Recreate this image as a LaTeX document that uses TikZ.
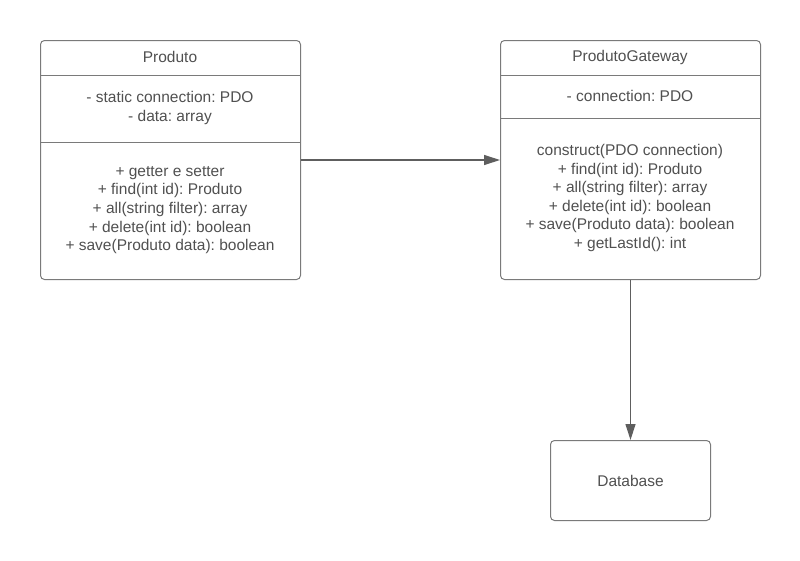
\documentclass[tikz,border=0pt]{standalone}
\usepackage{fontspec}
\setmainfont{Liberation Sans}
\usetikzlibrary{arrows.meta}
\frenchspacing
\definecolor{txt}{HTML}{505050}
\definecolor{ln}{HTML}{7A7A7A}
\definecolor{arr}{HTML}{5E5E5E}
\begin{document}
\begin{tikzpicture}[x=1pt,y=-1pt,
  umlbox/.style={draw=ln, line width=1pt, rounded corners=4pt, inner sep=0pt, anchor=north west},
  lbl/.style={text=txt, font=\fontsize{15.5}{18.6}\selectfont\frenchspacing, align=center, inner sep=0pt},
  divider/.style={draw=ln, line width=1pt},
  conn/.style={draw=arr, line width=1.2pt, -{Triangle[length=16pt,width=10pt]}}]
\useasboundingbox (0,0) rectangle (800,560);
% boxes
\node[umlbox, minimum width=260pt, minimum height=239pt] (prod) at (40,40) {};
\node[umlbox, minimum width=260pt, minimum height=239pt] (gw) at (500,40) {};
\node[umlbox, minimum width=160pt, minimum height=80pt] (db) at (550,440) {};
% dividers
\coordinate (pd1) at (0,75);
\coordinate (pd2) at (0,142);
\coordinate (gd1) at (0,75);
\coordinate (gd2) at (0,118);
\draw[divider] (prod.west |- pd1) -- (prod.east |- pd1);
\draw[divider] (prod.west |- pd2) -- (prod.east |- pd2);
\draw[divider] (gw.west |- gd1) -- (gw.east |- gd1);
\draw[divider] (gw.west |- gd2) -- (gw.east |- gd2);
% texts
\node[lbl] (prodname) at (170,57) {Produto};
\node[lbl] (prodattr) at (170,108) {- static connection: PDO\\- data: array};
\node[lbl] (prodops) at (170,210) {+ getter e setter\\+ find(int id): Produto\\+ all(string filter): array\\+ delete(int id): boolean\\+ save(Produto data): boolean};
\node[lbl] (gwname) at (630,57) {ProdutoGateway};
\node[lbl] (gwattr) at (630,96) {- connection: PDO};
\node[lbl] (gwops) at (630,198) {construct(PDO connection)\\+ find(int id): Produto\\+ all(string filter): array\\+ delete(int id): boolean\\+ save(Produto data): boolean\\+ getLastId(): int};
\node[lbl] (dbname) at (db.center) {Database};
% connectors
\draw[conn] (prod) -- (gw);
\draw[conn] (gw) -- (db);
\end{tikzpicture}
\end{document}
